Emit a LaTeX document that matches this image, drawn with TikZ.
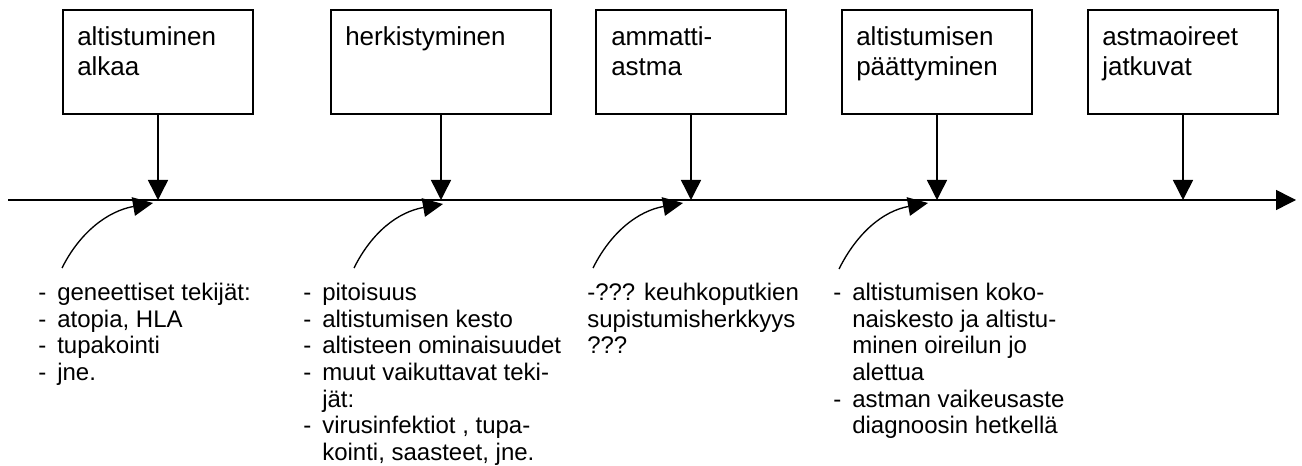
\documentclass[tikz,border=0pt]{standalone}
\usepackage{fontspec}
\setmainfont{Liberation Sans}
\usetikzlibrary{arrows.meta}
\newcommand\dsh{\makebox[14.25pt][l]{-}}
\newcommand\ind{\hspace*{14.25pt}}
\begin{document}
\begin{tikzpicture}[x=0.75pt,y=-0.75pt,
 arr/.style={line width=1.1pt,-{Triangle[length=15pt,width=15pt]}},
 carr/.style={line width=1pt,-{Triangle[length=15pt,width=14pt]}},
 box/.style={draw,line width=1.1pt,minimum height=78pt,inner sep=0pt},
 boxtxt/.style={anchor=north west,inner sep=0pt,align=left,font=\fontsize{19.5pt}{22.5pt}\selectfont},
 note/.style={anchor=north west,inner sep=0pt,align=left,font=\fontsize{18pt}{20pt}\selectfont}]
\useasboundingbox (0,0) rectangle (1302,466);
% boxes
\node[box,minimum width=142.5pt] (b1) at (158,62) {};
\node[box,minimum width=165pt] (b2) at (441,62) {};
\node[box,minimum width=142.5pt] (b3) at (691,62) {};
\node[box,minimum width=142.5pt] (b4) at (937,62) {};
\node[box,minimum width=142.5pt] (b5) at (1183,62) {};
\node[boxtxt] (t1) at (77,26) {altistuminen\\alkaa};
\node[boxtxt] (t2) at (345,26) {herkistyminen};
\node[boxtxt] (t3) at (611,26) {ammatti-\\astma};
\node[boxtxt] (t4) at (856,26) {altistumisen\\päättyminen};
\node[boxtxt] (t5) at (1102,26) {astmaoireet\\jatkuvat};
% axis
\coordinate (a0) at (8,200);
\coordinate (a1) at (1296,200);
\draw[arr] (a0) -- (a1);
\foreach \b in {b1,b2,b3,b4,b5}
  \draw[arr] (\b.south) -- (\b.south |- a0);
% curved arrows
\coordinate (s1) at (62,268);  \coordinate (e1) at (153,203);
\coordinate (s2) at (354,268); \coordinate (e2) at (443,204);
\coordinate (s3) at (593,268); \coordinate (e3) at (683,203);
\coordinate (s4) at (839,269); \coordinate (e4) at (928,203);
\foreach \i in {1,2,3,4}
  \draw[carr] (s\i) .. controls +(18,-36) and +(-45,8) .. (e\i);
% notes
\node[note] (n1) at (38,283) {\dsh geneettiset tekijät:\\\dsh atopia, HLA\\\dsh tupakointi\\\dsh jne.};
\node[note] (n2) at (303,283) {\dsh pitoisuus\\\dsh altistumisen kesto\\\dsh altisteen ominaisuudet\\\dsh muut vaikuttavat teki-\\\ind jät:\\\dsh virusinfektiot , tupa-\\\ind kointi, saasteet, jne.};
\node[note] (n3) at (587,283) {-??? keuhkoputkien\\supistumisherkkyys\\???};
\node[note] (n4) at (833,283) {\dsh altistumisen koko-\\\ind naiskesto ja altistu-\\\ind minen oireilun jo\\\ind alettua\\\dsh astman vaikeusaste\\\ind diagnoosin hetkellä};
\end{tikzpicture}
\end{document}
